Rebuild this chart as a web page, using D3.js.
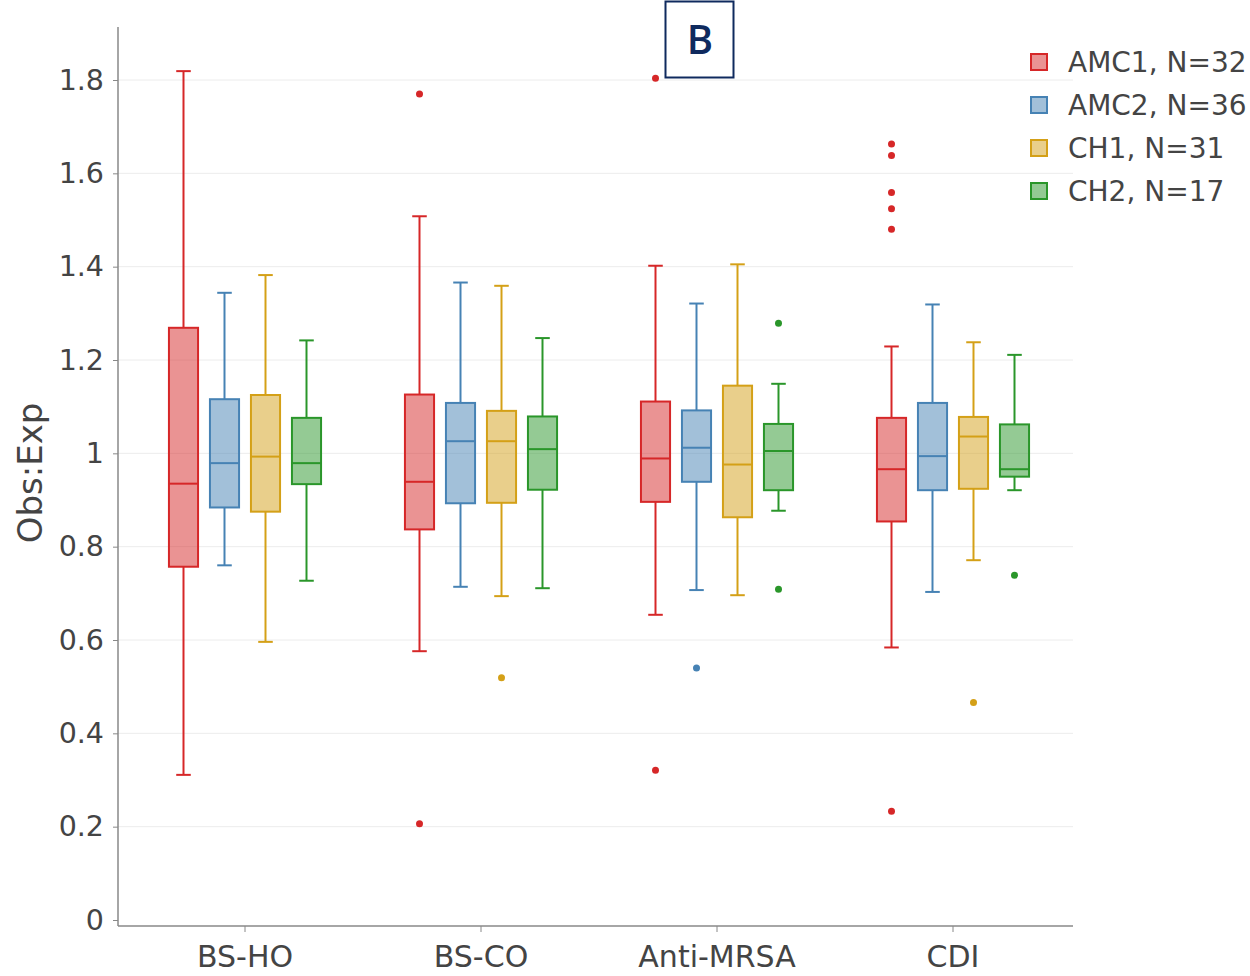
<!DOCTYPE html>
<html>
<head>
<meta charset="utf-8">
<script src="https://cdn.jsdelivr.net/npm/d3@7"></script>
<style>
  html, body { margin: 0; padding: 0; background: #fff; }
  svg { display: block; }
</style>
</head>
<body>
<svg id="chart" width="1250" height="976"></svg>
<script>
// ---------- DATA ----------
const categories = ["BS-HO", "BS-CO", "Anti-MRSA", "CDI"];
const seriesNames = ["AMC1, N=32", "AMC2, N=36", "CH1, N=31", "CH2, N=17"];
const yTicks = [0, 0.2, 0.4, 0.6, 0.8, 1, 1.2, 1.4, 1.6, 1.8];

// each row: [lower whisker, Q1, median, Q3, upper whisker] per category
const amc1Stats = [[0.311, 0.757, 0.935, 1.269, 1.819], [0.576, 0.837, 0.939, 1.126, 1.508], [0.654, 0.896, 0.989, 1.111, 1.402], [0.584, 0.854, 0.966, 1.076, 1.229]];
const amc2Stats = [[0.760, 0.884, 0.979, 1.116, 1.344], [0.714, 0.893, 1.026, 1.108, 1.366], [0.707, 0.939, 1.012, 1.092, 1.321], [0.703, 0.921, 0.994, 1.108, 1.319]];
const ch1Stats  = [[0.596, 0.875, 0.993, 1.125, 1.382], [0.694, 0.894, 1.026, 1.091, 1.359], [0.696, 0.863, 0.976, 1.145, 1.405], [0.771, 0.924, 1.036, 1.078, 1.238]];
const ch2Stats  = [[0.727, 0.934, 0.979, 1.076, 1.242], [0.711, 0.922, 1.009, 1.079, 1.247], [0.877, 0.921, 1.005, 1.063, 1.149], [0.921, 0.950, 0.966, 1.062, 1.211]];

const amc1Outliers = [[], [1.770, 0.206], [1.804, 0.321], [1.663, 1.638, 1.559, 1.524, 1.480, 0.233]];
const amc2Outliers = [[], [], [0.540], []];
const ch1Outliers  = [[], [0.519], [], [0.466]];
const ch2Outliers  = [[], [], [1.279, 0.709], [0.739]];

const seriesColors = ["#d62728", "#4682b4", "#d4a017", "#2a962a"];
const panelLabel = "B";

// ---------- LAYOUT ----------
const stats = [amc1Stats, amc2Stats, ch1Stats, ch2Stats];
const outliers = [amc1Outliers, amc2Outliers, ch1Outliers, ch2Outliers];

const svg = d3.select("#chart");
const plot = { left: 118, right: 1073, top: 27, bottom: 926 };
const font = "'DejaVu Sans', Verdana, sans-serif";

const y = d3.scaleLinear().domain([0, 1.8]).range([920, 80]);
const x = d3.scaleBand().domain(categories).range([127, 1071]).padding(0);
const inner = d3.scaleBand().domain(seriesNames).range([-82, 82]).paddingInner(0.29).paddingOuter(0.145);

// gridlines
svg.append("g").selectAll("line").data(yTicks.filter(d => d > 0)).join("line")
  .attr("x1", plot.left).attr("x2", plot.right)
  .attr("y1", d => y(d)).attr("y2", d => y(d))
  .attr("stroke", "#ececec").attr("stroke-width", 1);

// y axis
const yAxis = d3.axisLeft(y).tickValues(yTicks).tickSize(5).tickPadding(9)
  .tickFormat(d => d3.format("~g")(d));
const gy = svg.append("g").attr("transform", `translate(${plot.left},0)`).call(yAxis);
gy.select(".domain").remove();
gy.selectAll(".tick line").attr("stroke", "#888").attr("stroke-width", 1);
gy.selectAll(".tick text").attr("font-family", font).attr("font-size", 28.5).attr("fill", "#444");
svg.append("line").attr("x1", plot.left).attr("x2", plot.left).attr("y1", plot.top).attr("y2", plot.bottom)
  .attr("stroke", "#888").attr("stroke-width", 1.5);

// x axis
const xAxis = d3.axisBottom(x).tickSize(6).tickPadding(14);
const gx = svg.append("g").attr("transform", `translate(0,${plot.bottom})`).call(xAxis);
gx.select(".domain").remove();
gx.selectAll(".tick line").attr("stroke", "#888").attr("stroke-width", 1);
gx.selectAll(".tick text").attr("font-family", font).attr("font-size", 30).attr("fill", "#444");
svg.append("line").attr("x1", plot.left).attr("x2", plot.right).attr("y1", plot.bottom).attr("y2", plot.bottom)
  .attr("stroke", "#888").attr("stroke-width", 1.5);

// y title
svg.append("text").attr("transform", `translate(42,473) rotate(-90)`)
  .attr("text-anchor", "middle").attr("font-family", font).attr("font-size", 34).attr("fill", "#444")
  .text("Obs:Exp");

// boxes
const bw = inner.bandwidth();
seriesNames.forEach((name, si) => {
  const col = seriesColors[si];
  const g = svg.append("g");
  categories.forEach((cat, ci) => {
    const [lo, q1, med, q3, hi] = stats[si][ci];
    const cx = x(cat) + x.bandwidth() / 2 + inner(name) + bw / 2;
    // whiskers
    g.append("line").attr("x1", cx).attr("x2", cx).attr("y1", y(hi)).attr("y2", y(q3)).attr("stroke", col).attr("stroke-width", 2);
    g.append("line").attr("x1", cx).attr("x2", cx).attr("y1", y(q1)).attr("y2", y(lo)).attr("stroke", col).attr("stroke-width", 2);
    [hi, lo].forEach(v => {
      g.append("line").attr("x1", cx - bw / 4).attr("x2", cx + bw / 4).attr("y1", y(v)).attr("y2", y(v))
        .attr("stroke", col).attr("stroke-width", 2);
    });
    // box
    g.append("rect").attr("x", cx - bw / 2).attr("width", bw)
      .attr("y", y(q3)).attr("height", y(q1) - y(q3))
      .attr("fill", col).attr("fill-opacity", 0.5).attr("stroke", col).attr("stroke-width", 2);
    g.append("line").attr("x1", cx - bw / 2).attr("x2", cx + bw / 2).attr("y1", y(med)).attr("y2", y(med))
      .attr("stroke", col).attr("stroke-width", 2);
    // outliers
    g.selectAll(null).data(outliers[si][ci]).join("circle")
      .attr("cx", cx).attr("cy", d => y(d)).attr("r", 3.5).attr("fill", col);
  });
});

// legend
const leg = svg.append("g").attr("transform", "translate(1030,62)");
seriesNames.forEach((name, i) => {
  const row = leg.append("g").attr("transform", `translate(0,${i * 43})`);
  row.append("rect").attr("x", 1).attr("y", -8).attr("width", 16).attr("height", 16)
    .attr("fill", seriesColors[i]).attr("fill-opacity", 0.5)
    .attr("stroke", seriesColors[i]).attr("stroke-width", 2);
  row.append("text").attr("x", 38).attr("y", 0).attr("dy", "0.35em")
    .attr("font-family", font).attr("font-size", 28).attr("fill", "#444").text(name);
});

// panel label
svg.append("rect").attr("x", 665.5).attr("y", 1.5).attr("width", 68).attr("height", 76)
  .attr("fill", "#fff").attr("stroke", "#0f2a5e").attr("stroke-width", 2);
svg.append("text").attr("x", 700).attr("y", 40).attr("dy", "0.36em").attr("text-anchor", "middle")
  .attr("font-family", "'Open Sans', sans-serif").attr("font-weight", 600).attr("font-size", 40).attr("fill", "#0f2a5e")
  .text(panelLabel);
</script>
</body>
</html>
